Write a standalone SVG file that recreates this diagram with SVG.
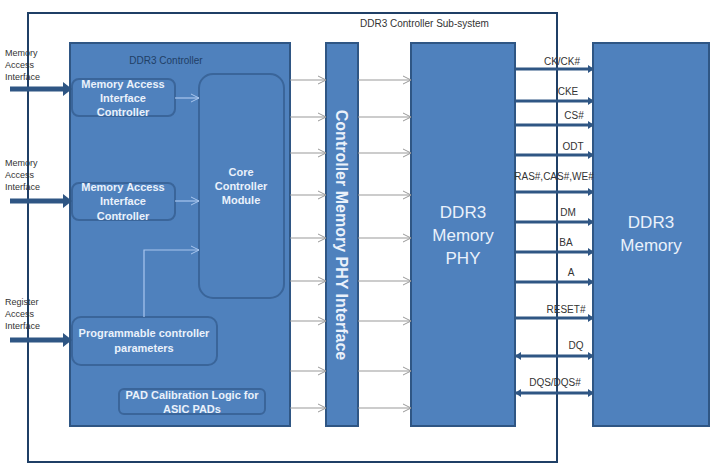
<svg xmlns="http://www.w3.org/2000/svg" width="720" height="472" viewBox="0 0 720 472">
<defs>
<style>
.b{fill:#4f81bd;stroke:#2f5684;stroke-width:2}
.i{fill:#4f81bd;stroke:#3a659a;stroke-width:2}
.t{font-family:"Liberation Sans",Arial,sans-serif;fill:#eaf1fb;font-weight:bold;text-anchor:middle;font-size:11px}
.big{font-family:"Liberation Sans",Arial,sans-serif;fill:#eaf1fb;text-anchor:middle;font-size:17px}
.s{font-family:"Liberation Sans",Arial,sans-serif;fill:#333;font-size:9px}
.g{stroke:#999;stroke-width:1;fill:none;marker-end:url(#ga)}
.lb{stroke:#a9c6ee;stroke-width:1.2;fill:none;marker-end:url(#la)}
.sig{stroke:#2f5684;stroke-width:3;fill:none;marker-end:url(#da)}
</style>
<marker id="ga" markerWidth="10" markerHeight="10" refX="9" refY="5" orient="auto" markerUnits="userSpaceOnUse"><path d="M1,1 L9,5 L1,9" fill="none" stroke="#999"/></marker>
<marker id="la" markerWidth="10" markerHeight="10" refX="9" refY="5" orient="auto" markerUnits="userSpaceOnUse"><path d="M1,1 L9,5 L1,9" fill="none" stroke="#a9c6ee"/></marker>
<marker id="da" markerWidth="6" markerHeight="8" refX="5" refY="4" orient="auto" markerUnits="userSpaceOnUse"><path d="M0,0 L6,4 L0,8 Z" fill="#2f5684"/></marker>
<marker id="ds" markerWidth="6" markerHeight="8" refX="1" refY="4" orient="auto" markerUnits="userSpaceOnUse"><path d="M6,0 L0,4 L6,8 Z" fill="#2f5684"/></marker>
</defs>
<rect width="720" height="472" fill="#fff"/>
<g id="subsystem"><rect x="28" y="13" width="529" height="449" fill="none" stroke="#1f3f66" stroke-width="2"/>
<text x="360" y="27" class="s" style="font-size:10px">DDR3 Controller Sub-system</text></g>
<g id="controller"><rect x="70" y="43" width="220" height="383" class="b"/>
<text x="166" y="64" style="font-family:'Liberation Sans',Arial,sans-serif;font-size:10px;fill:#1f3f66;text-anchor:middle">DDR3 Controller</text></g>
<g id="maic1"><rect x="72" y="79" width="103" height="37" rx="7" class="i"/>
<text class="t" x="123" y="88">Memory Access</text><text class="t" x="123" y="102">Interface</text><text class="t" x="123" y="116">Controller</text></g>
<g id="maic2"><rect x="72" y="183" width="103" height="37" rx="7" class="i"/>
<text class="t" x="123" y="191">Memory Access</text><text class="t" x="123" y="205">Interface</text><text class="t" x="123" y="220">Controller</text></g>
<g id="core"><rect x="199" y="74" width="85" height="224" rx="14" class="i"/>
<text class="t" x="241" y="176">Core</text><text class="t" x="241" y="190">Controller</text><text class="t" x="241" y="204">Module</text></g>
<g id="prog"><rect x="72" y="317" width="145" height="48" rx="9" class="i"/>
<text class="t" x="144" y="337">Programmable controller</text><text class="t" x="144" y="352">parameters</text></g>
<g id="pad"><rect x="119" y="389" width="146" height="25" rx="5" class="i"/>
<text class="t" x="192" y="399">PAD Calibration Logic for</text><text class="t" x="192" y="413">ASIC PADs</text></g>
<g id="phyif"><rect x="326" y="43" width="32" height="383" class="b"/>
<text class="big" transform="translate(336,235) rotate(90)" style="font-size:16px;font-weight:bold">Controller Memory PHY Interface</text></g>
<g id="phy"><rect x="411" y="43" width="104" height="383" class="b"/>
<text class="big" x="463" y="218">DDR3</text><text class="big" x="463" y="241">Memory</text><text class="big" x="463" y="264">PHY</text></g>
<g id="mem"><rect x="593" y="43" width="116" height="383" class="b"/>
<text class="big" x="651" y="228">DDR3</text><text class="big" x="651" y="251">Memory</text></g>
<g id="ext" class="s">
<text x="5" y="56">Memory</text><text x="5" y="68">Access</text><text x="5" y="80">Interface</text>
<text x="5" y="166">Memory</text><text x="5" y="178">Access</text><text x="5" y="190">Interface</text>
<text x="5" y="305">Register</text><text x="5" y="317">Access</text><text x="5" y="329">Interface</text>
</g>
<g id="connectors">
<path d="M10,89 H64 M10,201 H64 M10,340 H64" stroke="#2f5684" stroke-width="5"/>
<path d="M63,82 L72,89 L63,96 Z M63,194 L72,201 L63,208 Z M63,333 L72,340 L63,347 Z" fill="#2f5684"/>
<path class="lb" d="M175,98 H199"/><path class="lb" d="M175,201 H199"/><path class="lb" d="M144,317 V250 H199"/>
<path class="g" d="M290,80 H326"/><path class="g" d="M290,117 H326"/><path class="g" d="M290,153 H326"/><path class="g" d="M290,195 H326"/><path class="g" d="M290,238 H326"/><path class="g" d="M290,281 H326"/><path class="g" d="M290,321 H326"/><path class="g" d="M290,371 H326"/><path class="g" d="M290,408 H326"/>
<path class="g" d="M358,80 H411"/><path class="g" d="M358,117 H411"/><path class="g" d="M358,153 H411"/><path class="g" d="M358,195 H411"/><path class="g" d="M358,238 H411"/><path class="g" d="M358,281 H411"/><path class="g" d="M358,321 H411"/><path class="g" d="M358,371 H411"/><path class="g" d="M358,408 H411"/>
<path class="sig" d="M516,69 H593"/><path class="sig" d="M516,101 H593"/><path class="sig" d="M516,125 H593"/><path class="sig" d="M516,155 H593"/><path class="sig" d="M516,192 H593"/><path class="sig" d="M516,222 H593"/><path class="sig" d="M516,252 H593"/><path class="sig" d="M516,282 H593"/><path class="sig" d="M516,318 H593"/>
<path class="sig" d="M516,356 H593" marker-start="url(#ds)"/><path class="sig" d="M516,393 H593" marker-start="url(#ds)"/>
</g>
<g id="siglabels" class="s" style="text-anchor:middle;font-size:10px">
<text x="562" y="65">CK/CK#</text><text x="568" y="95">CKE</text><text x="574" y="119">CS#</text><text x="573" y="150">ODT</text><text x="554" y="180">RAS#,CAS#,WE#</text><text x="568" y="216">DM</text><text x="566" y="246">BA</text><text x="571" y="276">A</text><text x="566" y="313">RESET#</text><text x="576" y="349">DQ</text><text x="555" y="386">DQS/DQS#</text>
</g>
</svg>
